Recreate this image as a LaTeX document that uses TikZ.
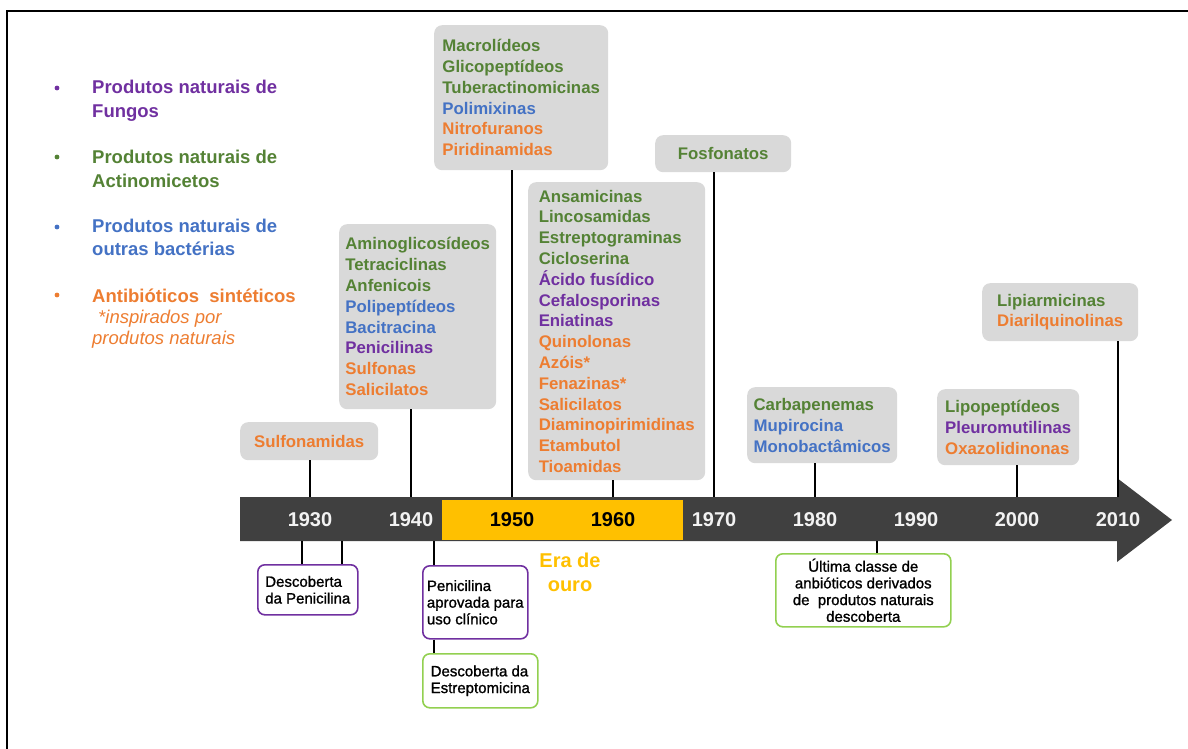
\documentclass[tikz,border=0pt]{standalone}
\usepackage{fontspec}
\setmainfont{Liberation Sans}
\newfontfamily\notefont{Liberation Sans}[RawFeature={embolden=1.2}]
\usetikzlibrary{positioning}

\definecolor{fungi}{HTML}{7030A0}
\definecolor{actino}{HTML}{548235}
\definecolor{bact}{HTML}{4472C4}
\definecolor{synth}{HTML}{ED7D31}
\definecolor{gold}{HTML}{FFC000}
\definecolor{boxgray}{HTML}{D9D9D9}
\definecolor{bardark}{HTML}{404040}
\definecolor{yeartxt}{HTML}{F2F2F2}
\definecolor{natgreen}{HTML}{92D050}

\newcommand{\fun}[1]{\textcolor{fungi}{#1}}
\newcommand{\act}[1]{\textcolor{actino}{#1}}
\newcommand{\bac}[1]{\textcolor{bact}{#1}}
\newcommand{\syn}[1]{\textcolor{synth}{#1}}

\tikzset{
    classbox/.style={fill=boxgray, rounded corners=8pt, anchor=north west, align=left, inner sep=0pt, font=\bfseries\fontsize{16.8}{20.8}\selectfont},
    eventbox/.style={draw, fill=white, line width=1.6pt, rounded corners=7pt, anchor=north west, align=left, inner sep=0pt, font=\notefont\fontsize{15}{16.7}\selectfont},
    yearlbl/.style={font=\bfseries\fontsize{20}{24}\selectfont},
    legitem/.style={anchor=north west, align=left, inner sep=0pt, font=\bfseries\fontsize{18.5}{23.4}\selectfont},
    stem/.style={line width=1.6pt},
    tie/.style={line width=1.2pt}
}

\begin{document}
\begin{tikzpicture}[x=1pt,y=-1pt]

    \useasboundingbox (0,0) rectangle (1188,749);

    %frame:
    \draw[line width=2pt] (1188,11) -- (7,11) -- (7,749);

    %legend:
    \node[legitem, text=fungi] (lfun) at (92,80) {Produtos naturais de\\Fungos};
    \node[legitem, text=actino] (lact) at (92,150) {Produtos naturais de\\Actinomicetos};
    \node[legitem, text=bact] (lbac) at (92,218.5) {Produtos naturais de\\outras bactérias};
    \node[legitem, text=synth] (lsyn) at (92,288.5) {Antibióticos\ \ sintéticos\\[-2pt]
        {\mdseries\itshape\hspace*{6pt}*inspirados por}\\[-3pt]
        {\mdseries\itshape produtos naturais}};
    \fill[fungi] (57,88) circle (2.4);
    \fill[actino] (57,157) circle (2.4);
    \fill[bact] (57,227) circle (2.4);
    \fill[synth] (57,295) circle (2.4);

    %draw timeline:
    \fill[bardark] (240,497) -- (1117,497) -- (1117,478) -- (1172,520)
        -- (1117,562) -- (1117,541) -- (240,541) -- cycle;
    \fill[gold] (442,500) rectangle (683,540);
    \coordinate (bartop) at (0,497);
    \coordinate (barbot) at (0,541);
    \foreach \yr/\yc [count=\i from 0] in {1930/yeartxt,1940/yeartxt,1950/black,1960/black,
        1970/yeartxt,1980/yeartxt,1990/yeartxt,2000/yeartxt,2010/yeartxt}
        \node[yearlbl, text=\yc] (y\yr) at (310+101*\i,520) {\yr};
    \node[yearlbl, text=gold, align=center] (era) at (570,572) {Era de\\ouro};

    %class boxes:
    \node[classbox, minimum width=138, minimum height=38] (sulf) at (240,422) {\syn{Sulfonamidas}};
    \node[classbox, minimum width=157, minimum height=185] (amino) at (339,224)
        {\act{Aminoglicosídeos}\\\act{Tetraciclinas}\\\act{Anfenicois}\\\bac{Polipeptídeos}\\
         \bac{Bacitracina}\\\fun{Penicilinas}\\\syn{Sulfonas}\\\syn{Salicilatos}};
    \node[classbox, minimum width=174, minimum height=145] (macro) at (434,25)
        {\act{Macrolídeos}\\\act{Glicopeptídeos}\\\act{Tuberactinomicinas}\\\bac{Polimixinas}\\
         \syn{Nitrofuranos}\\\syn{Piridinamidas}};
    \node[classbox, minimum width=177, minimum height=298] (ansa) at (528,182)
        {\act{Ansamicinas}\\\act{Lincosamidas}\\\act{Estreptograminas}\\\act{Cicloserina}\\
         \fun{Ácido fusídico}\\\fun{Cefalosporinas}\\\fun{Eniatinas}\\\syn{Quinolonas}\\
         \syn{Azóis*}\\\syn{Fenazinas*}\\\syn{Salicilatos}\\\syn{Diaminopirimidinas}\\
         \syn{Etambutol}\\\syn{Tioamidas}};
    \node[classbox, minimum width=136, minimum height=37] (fosf) at (655,135) {\act{Fosfonatos}};
    \node[classbox, minimum width=150, minimum height=76] (carba) at (747,387)
        {\act{Carbapenemas}\\\bac{Mupirocina}\\\bac{Monobactâmicos}};
    \node[classbox, minimum width=142, minimum height=76] (lipo) at (937,389)
        {\act{Lipopeptídeos}\\\fun{Pleuromutilinas}\\\syn{Oxazolidinonas}};
    \node[classbox, minimum width=156, minimum height=58] (lipia) at (982,283)
        {\act{Lipiarmicinas}\\\syn{Diarilquinolinas}};

    %stems to the bar:
    \draw[stem] (y1930 |- sulf.south) -- (y1930 |- bartop);
    \draw[stem] (y1940 |- amino.south) -- (y1940 |- bartop);
    \draw[stem] (y1950 |- macro.south) -- (y1950 |- bartop);
    \draw[stem] (y1960 |- ansa.south) -- (y1960 |- bartop);
    \draw[stem] (y1970 |- fosf.south) -- (y1970 |- bartop);
    \draw[stem] (y1980 |- carba.south) -- (y1980 |- bartop);
    \draw[stem] (y2000 |- lipo.south) -- (y2000 |- bartop);
    \draw[stem] (y2010 |- lipia.south) -- (y2010 |- bartop);

    %events:
    \node[eventbox, draw=fungi, minimum width=100, minimum height=50] (penfind) at (257,564) {Descoberta\\da Penicilina};
    \node[eventbox, draw=fungi, minimum width=105, minimum height=73] (penuse) at (422,565) {Penicilina\\aprovada para\\uso clínico};
    \node[eventbox, draw=natgreen, minimum width=115, minimum height=54] (strep) at (422,653) {Descoberta da\\Estreptomicina};
    \node[eventbox, draw=natgreen, align=center, minimum width=175, minimum height=73] (lastcls) at (775,553)
        {Última classe de\\anbióticos derivados\\de\ \ produtos naturais\\descoberta};

    \coordinate (ta) at (302,0);
    \coordinate (tb) at (342,0);
    \coordinate (tc) at (434,0);
    \coordinate (td) at (877,0);
    \draw[tie] (ta |- barbot) -- (ta |- penfind.north);
    \draw[tie] (tb |- barbot) -- (tb |- penfind.north);
    \draw[tie] (tc |- barbot) -- (tc |- penuse.north);
    \draw[tie] (tc |- penuse.south) -- (tc |- strep.north);
    \draw[tie] (td |- barbot) -- (td |- lastcls.north);

\end{tikzpicture}
\end{document}
